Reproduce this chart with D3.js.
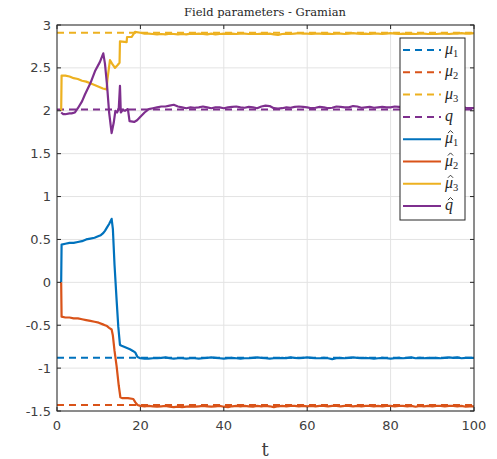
<!DOCTYPE html>
<html><head><meta charset="utf-8">
<script src="https://cdn.jsdelivr.net/npm/d3@7"></script>
<style>body{margin:0;background:#fff;}</style>
</head><body>
<svg id="chart" width="497" height="459"></svg>
<script>
// ---- data ----
const xTicks = [0, 20, 40, 60, 80, 100];
const yTicks = [-1.5, -1, -0.5, 0, 0.5, 1, 1.5, 2, 2.5, 3];
const yTickLabels = ["-1.5", "-1", "-0.5", "0", "0.5", "1", "1.5", "2", "2.5", "3"];

// true parameters (dashed)
const trueNames = ["mu1", "mu2", "mu3", "q"];
const trueValues = [-0.88, -1.43, 2.91, 2.015];

// estimates: transient part
const tMu1Trans = [1, 1.1, 2, 3, 4, 5, 6, 7, 8, 9, 10, 10.5, 11, 11.5, 12, 12.5, 13.1, 13.4, 13.8, 14.3, 14.7, 15.1, 15.5, 16.5, 17.5, 18.2, 18.8, 19.3];
const mu1HatTrans = [0, 0.44, 0.45, 0.46, 0.46, 0.47, 0.48, 0.50, 0.51, 0.52, 0.54, 0.55, 0.57, 0.60, 0.64, 0.68, 0.74, 0.62, 0.20, -0.21, -0.52, -0.73, -0.74, -0.76, -0.78, -0.80, -0.82, -0.87];

const tMu2Trans = [1, 1.1, 2, 3, 4, 5, 6, 7, 8, 9, 10, 11, 11.5, 12, 12.5, 13.1, 13.4, 13.8, 14.3, 14.8, 15.2, 15.6, 17, 18.3, 18.8, 19.3];
const mu2HatTrans = [0, -0.40, -0.41, -0.41, -0.42, -0.42, -0.43, -0.44, -0.45, -0.46, -0.47, -0.49, -0.50, -0.51, -0.53, -0.55, -0.62, -0.80, -0.98, -1.20, -1.34, -1.35, -1.35, -1.36, -1.40, -1.43];

const tMu3Trans = [1, 1.1, 2, 3, 4, 5, 6, 7, 8, 9, 10, 11, 11.9, 12.1, 12.7, 13.2, 13.9, 14.5, 15.0, 15.1, 16.7, 16.8, 17.9, 18.7];
const mu3HatTrans = [2.0, 2.41, 2.41, 2.40, 2.38, 2.37, 2.35, 2.34, 2.32, 2.30, 2.28, 2.26, 2.25, 2.37, 2.59, 2.55, 2.50, 2.53, 2.56, 2.81, 2.80, 2.86, 2.86, 2.92];

const tQTrans = [1, 1.5, 2, 3, 3.5, 4.3, 5, 6, 6.7, 8, 9.1, 10.3, 11.1, 11.5, 12, 12.5, 13.1, 13.6, 14.0, 14.4, 14.8, 15.1, 15.3, 15.8, 16.3, 17.0, 17.4, 18.5, 19.2];
const qHatTrans = [1.98, 1.96, 1.96, 1.97, 1.97, 1.98, 2.03, 2.11, 2.19, 2.32, 2.46, 2.57, 2.67, 2.55, 2.30, 1.98, 1.74, 1.86, 2.00, 1.98, 2.02, 2.29, 1.98, 2.01, 2.00, 2.02, 1.88, 1.87, 1.89];

// estimates: steady part, t = 20..100
const tSteady = d3.range(20, 101, 1);
const mu1HatSteady = [
 -0.885,-0.89,-0.89,-0.885,-0.885,-0.88,-0.875,-0.885,-0.89,-0.885,
 -0.885,-0.89,-0.885,-0.885,-0.89,-0.885,-0.88,-0.875,-0.88,-0.885,
 -0.89,-0.885,-0.88,-0.885,-0.89,-0.885,-0.885,-0.88,-0.875,-0.88,
 -0.885,-0.89,-0.885,-0.885,-0.88,-0.885,-0.875,-0.88,-0.885,-0.88,
 -0.875,-0.88,-0.885,-0.885,-0.88,-0.885,-0.895,-0.885,-0.88,-0.885,
 -0.88,-0.875,-0.88,-0.885,-0.88,-0.885,-0.89,-0.885,-0.88,-0.885,
 -0.89,-0.885,-0.88,-0.885,-0.88,-0.875,-0.885,-0.88,-0.885,-0.88,
 -0.885,-0.88,-0.885,-0.88,-0.875,-0.88,-0.875,-0.885,-0.88,-0.88,
 -0.88];
const mu2HatSteady = [
 -1.44,-1.445,-1.44,-1.445,-1.45,-1.445,-1.44,-1.45,-1.455,-1.45,
 -1.455,-1.45,-1.445,-1.45,-1.445,-1.44,-1.445,-1.45,-1.445,-1.44,
 -1.45,-1.455,-1.445,-1.44,-1.445,-1.44,-1.445,-1.45,-1.44,-1.445,
 -1.44,-1.445,-1.455,-1.445,-1.44,-1.445,-1.44,-1.44,-1.445,-1.44,
 -1.445,-1.44,-1.445,-1.44,-1.44,-1.445,-1.44,-1.44,-1.445,-1.44,
 -1.44,-1.445,-1.44,-1.445,-1.44,-1.44,-1.445,-1.44,-1.445,-1.44,
 -1.44,-1.445,-1.44,-1.44,-1.445,-1.44,-1.45,-1.44,-1.445,-1.44,
 -1.445,-1.44,-1.44,-1.445,-1.44,-1.44,-1.445,-1.44,-1.45,-1.445,
 -1.445];
const mu3HatSteady = [
 2.91,2.9,2.9,2.895,2.89,2.895,2.89,2.9,2.895,2.89,
 2.895,2.89,2.9,2.895,2.9,2.895,2.89,2.9,2.89,2.895,
 2.9,2.895,2.9,2.895,2.9,2.9,2.895,2.9,2.895,2.9,
 2.895,2.9,2.89,2.885,2.895,2.9,2.895,2.9,2.905,2.9,
 2.9,2.895,2.9,2.9,2.895,2.9,2.895,2.9,2.9,2.895,
 2.9,2.905,2.9,2.895,2.9,2.895,2.9,2.9,2.895,2.9,
 2.905,2.9,2.895,2.9,2.895,2.9,2.895,2.9,2.9,2.895,
 2.9,2.895,2.9,2.9,2.895,2.9,2.9,2.905,2.9,2.9,
 2.905];
const qHatSteady = [
 1.93,1.98,2.02,2.03,2.04,2.05,2.05,2.06,2.07,2.05,
 2.04,2.03,2.04,2.035,2.04,2.05,2.04,2.03,2.04,2.04,
 2.03,2.04,2.045,2.05,2.04,2.035,2.045,2.04,2.03,2.05,
 2.06,2.055,2.03,2.025,2.03,2.04,2.035,2.045,2.05,2.045,
 2.04,2.03,2.035,2.045,2.04,2.03,2.035,2.05,2.045,2.04,
 2.04,2.055,2.05,2.035,2.04,2.045,2.035,2.04,2.045,2.04,
 2.04,2.05,2.045,2.04,2.035,2.04,2.045,2.04,2.035,2.04,
 2.045,2.04,2.04,2.035,2.045,2.04,2.04,2.05,2.035,2.03,
 2.03];

const colors = ["#0072BD", "#D95319", "#EDB120", "#7E2F8E"];
const legendBase = ["μ", "μ", "μ", "q"];
const legendSub = ["1", "2", "3", ""];

// ---- chart ----
const svg = d3.select("#chart");
const L = 57, R = 474, T = 25, B = 411;
const x = d3.scaleLinear().domain([0, 100]).range([L, R]);
const y = d3.scaleLinear().domain([-1.5, 3]).range([B, T]);
const axisColor = "#262626";

// grid
svg.append("g").selectAll("line").data(xTicks).join("line")
  .attr("x1", d => x(d)).attr("x2", d => x(d)).attr("y1", T).attr("y2", B)
  .attr("stroke", "#e3e3e3").attr("stroke-width", 1);
svg.append("g").selectAll("line").data(yTicks).join("line")
  .attr("x1", L).attr("x2", R).attr("y1", d => y(d)).attr("y2", d => y(d))
  .attr("stroke", "#e3e3e3").attr("stroke-width", 1);

// clip
svg.append("clipPath").attr("id", "clip").append("rect")
  .attr("x", L).attr("y", T - 2).attr("width", R - L).attr("height", B - T + 4);

const plot = svg.append("g").attr("clip-path", "url(#clip)");

// true (dashed)
trueValues.forEach((v, i) => {
  plot.append("path")
    .datum([[0, v], [100, v]])
    .attr("d", d3.line().x(d => x(d[0])).y(d => y(d[1])))
    .attr("fill", "none").attr("stroke", colors[i]).attr("stroke-width", 2)
    .attr("stroke-dasharray", "7,5");
});

// estimates
const series = [
  [tMu1Trans, mu1HatTrans, mu1HatSteady],
  [tMu2Trans, mu2HatTrans, mu2HatSteady],
  [tMu3Trans, mu3HatTrans, mu3HatSteady],
  [tQTrans, qHatTrans, qHatSteady]
];
const line = d3.line().x(d => x(d[0])).y(d => y(d[1]));
series.forEach((s, i) => {
  const pts = s[0].map((t, k) => [t, s[1][k]]).concat(tSteady.map((t, k) => [t, s[2][k]]));
  plot.append("path").datum(pts).attr("d", line)
    .attr("fill", "none").attr("stroke", colors[i]).attr("stroke-width", 2.2)
    .attr("stroke-linejoin", "round");
});

// axes box
const box = svg.append("g");
box.append("rect").attr("x", L).attr("y", T).attr("width", R - L).attr("height", B - T)
  .attr("fill", "none").attr("stroke", axisColor).attr("stroke-width", 1);
const tl = 4;
xTicks.forEach(d => {
  box.append("line").attr("x1", x(d)).attr("x2", x(d)).attr("y1", B).attr("y2", B - tl).attr("stroke", axisColor);
  box.append("line").attr("x1", x(d)).attr("x2", x(d)).attr("y1", T).attr("y2", T + tl).attr("stroke", axisColor);
});
yTicks.forEach(d => {
  box.append("line").attr("x1", L).attr("x2", L + tl).attr("y1", y(d)).attr("y2", y(d)).attr("stroke", axisColor);
  box.append("line").attr("x1", R).attr("x2", R - tl).attr("y1", y(d)).attr("y2", y(d)).attr("stroke", axisColor);
});

// tick labels
svg.append("g").selectAll("text").data(xTicks).join("text")
  .attr("x", d => x(d)).attr("y", 430).attr("text-anchor", "middle")
  .attr("font-family", "DejaVu Sans, sans-serif").attr("font-size", 13).attr("fill", "#404040")
  .text(d => d);
svg.append("g").selectAll("text").data(yTicks).join("text")
  .attr("x", 51).attr("y", d => y(d) + 4.5).attr("text-anchor", "end")
  .attr("font-family", "DejaVu Sans, sans-serif").attr("font-size", 13).attr("fill", "#404040")
  .text((d, i) => yTickLabels[i]);

// title and x label
svg.append("text").attr("x", 265).attr("y", 16).attr("text-anchor", "middle")
  .attr("font-family", "DejaVu Serif, serif").attr("font-size", 11.5).attr("fill", "#262626")
  .text("Field parameters - Gramian");
svg.append("text").attr("x", 265).attr("y", 456).attr("text-anchor", "middle")
  .attr("font-family", "DejaVu Serif, serif").attr("font-size", 18).attr("fill", "#404040")
  .text("t");

// legend
const lg = svg.append("g");
lg.append("rect").attr("x", 400).attr("y", 38).attr("width", 65).attr("height", 182)
  .attr("fill", "#fff").attr("stroke", axisColor).attr("stroke-width", 1);
const rowY = d3.range(8).map(i => 50 + i * 22.3);
for (let i = 0; i < 8; i++) {
  const k = i % 4, hat = i >= 4;
  const yy = rowY[i];
  lg.append("line").attr("x1", 403).attr("x2", 441).attr("y1", yy).attr("y2", yy)
    .attr("stroke", colors[k]).attr("stroke-width", 2)
    .attr("stroke-dasharray", hat ? null : "7,5");
  const tx = lg.append("text").attr("x", 445).attr("y", yy + 4)
    .attr("font-family", "Liberation Serif, serif").attr("font-style", "italic")
    .attr("font-size", 16).attr("fill", "#262626");
  tx.append("tspan").text(legendBase[k]);
  if (legendSub[k]) tx.append("tspan").attr("font-style", "normal").attr("font-size", 10.5)
    .attr("dy", 3).text(legendSub[k]);
  if (hat) {
    const cx = 450.5, cy = yy - 6;
    lg.append("path")
      .attr("d", `M${cx - 2.6},${cy} L${cx},${cy - 2.6} L${cx + 2.6},${cy}`)
      .attr("fill", "none").attr("stroke", "#262626").attr("stroke-width", 0.9);
  }
}
</script>
</body></html>
